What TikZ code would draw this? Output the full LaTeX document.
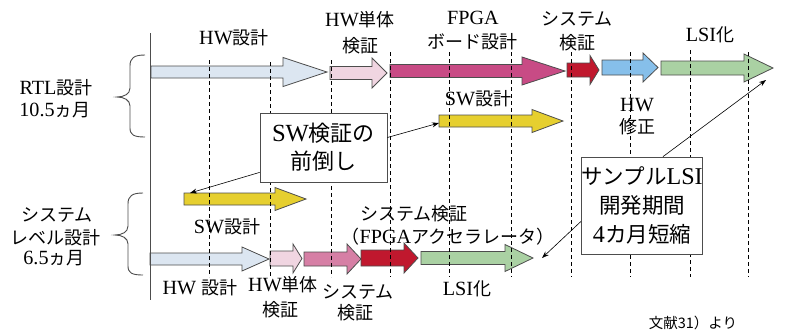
\documentclass[tikz,border=0pt]{standalone}
\usepackage{fontspec}
\setmainfont{Liberation Serif}[Scale=1.12]
\newfontfamily\jpf{Noto Sans CJK JP}
\usetikzlibrary{arrows.meta,calc}
\newcommand{\J}[1]{{\jpf #1}}
\definecolor{cLB}{HTML}{DCE6F1}
\definecolor{cLP}{HTML}{F0D5E1}
\definecolor{cMG}{HTML}{C84B85}
\definecolor{cRD}{HTML}{C0182E}
\definecolor{cBL}{HTML}{86BFEA}
\definecolor{cGR}{HTML}{AAD1A3}
\definecolor{cYL}{HTML}{E6CF2F}
\definecolor{cPK}{HTML}{D67FA5}
\definecolor{cOL}{HTML}{4D4D4D}
\tikzset{
  blk/.style={draw=cOL, line width=0.8pt, line join=miter},
  dsh/.style={draw=black, line width=0.8pt, dash pattern=on 4pt off 3pt},
  brc/.style={draw=cOL, line width=0.9pt},
  lbl/.style={inner sep=0pt, font=\fontsize{18}{21}\selectfont},
  bigbox/.style={draw=cOL, line width=0.8pt, fill=white, inner sep=0pt, align=center},
  conn/.style={-{Stealth[length=7pt,width=5pt]}, line width=0.6pt},
  foot/.style={inner sep=0pt, font=\jpf\fontsize{14.5}{16}\selectfont}
}
% name, fill, x1, xhead, xtip, ycenter, shaft half, head half
\newcommand{\barrow}[8]{%
  \draw[blk,fill=#2] (#3,{#6-#7}) -- (#4,{#6-#7}) -- (#4,{#6-#8}) -- (#5,#6) -- (#4,{#6+#8}) -- (#4,{#6+#7}) -- (#3,{#6+#7}) -- cycle;
  \coordinate (#1-tail) at (#3,#6);
  \coordinate (#1-tip) at (#5,#6);}
\begin{document}
\begin{tikzpicture}[x=1pt,y=-1pt]
\useasboundingbox (0,0) rectangle (791,333);
% top row
\barrow{hwt}{cLB}{151}{283}{327}{72}{6}{14.5}
\barrow{hut}{cLP}{330}{372}{387}{73}{6.5}{15}
\barrow{fpt}{cMG}{390}{522}{565}{71}{6.5}{14}
\barrow{svt}{cRD}{567}{590}{599}{70}{7}{14.5}
\barrow{hmt}{cBL}{602}{643}{658}{67.5}{7.5}{14.5}
\barrow{gt}{cGR}{661}{744}{773}{68}{7}{14}
\barrow{swt}{cYL}{439}{532}{563}{121}{6}{11.5}
% bottom rows
\barrow{swb}{cYL}{184}{275}{306}{199}{6}{11.5}
\barrow{hwb}{cLB}{150}{242}{269}{259}{6}{12}
\barrow{hub}{cLP}{270}{293}{302}{258.5}{7.5}{14.5}
\barrow{svb}{cPK}{304}{347}{361}{259}{7}{15}
\barrow{fab}{cRD}{361}{404}{418}{258}{8}{15}
\barrow{gb}{cGR}{421}{505}{533}{258}{6.5}{13.5}
% dashed guide lines
\foreach \x/\ys in {209/60,270/62,331/60,390/52,449/52,511/52,571/52,630/52,690/50,748/52}
  \draw[dsh] (\x,\ys) -- (\x,277);
% solid axis
\draw[cOL, line width=0.8pt] (150,33) -- (150,300);
% braces
\draw[brc] (145,55) .. controls (134,55) and (130,58) .. (130,66) -- (130,88)
  .. controls (130,94) and (124,97) .. (117,97) .. controls (124,97) and (130,100) .. (130,106)
  -- (130,128) .. controls (130,135) and (134,137) .. (145,137);
\draw[brc] (143,193) .. controls (132,193) and (128,196) .. (128,204) -- (128,226)
  .. controls (128,232) and (122,235) .. (115,235) .. controls (122,235) and (128,238) .. (128,244)
  -- (128,266) .. controls (128,273) and (132,275) .. (143,275);
% boxes
\node[bigbox, minimum width=127pt, minimum height=69pt, font=\fontsize{22}{28}\selectfont]
  (box1) at (323.5,147.5) {SW\J{検証の}\\\J{前倒し}};
\node[bigbox, minimum width=120pt, minimum height=97pt, font=\fontsize{21.5}{29}\selectfont]
  (box2) at (642,205.5) {\J{サンプル}LSI\\\J{開発期間}\\4\J{カ月短縮}};
% connectors
\draw[conn] ([yshift=10pt]box1.east) -- ([yshift=-2pt]swt-tail);
\draw[conn] ([yshift=10pt]box1.south west) -- ([shift={(6,-6)}]swb-tail);
\draw[conn] ([yshift=-16pt]box2.west) -- ([xshift=9pt]gb-tip);
\draw[conn] ([xshift=21pt]box2.north) -- ([shift={(-7,12)}]gt-tip);
% left labels
\node[lbl] (l1) at (56,88) {RTL\J{設計}};
\node[lbl] (l2) at (55,110) {10.5\J{ヵ月}};
\node[lbl] (l3) at (57,215) {\J{システム}};
\node[lbl] (l4) at (55,238) {\J{レベル設計}};
\node[lbl] (l5) at (54,258) {6.5\J{ヵ月}};
% top labels
\node[lbl] (t1) at (234,38) {HW\J{設計}};
\node[lbl] (t2) at (360,20) {HW\J{単体}};
\node[lbl] (t3) at (360,46) {\J{検証}};
\node[lbl] (t4) at (473,18) {FPGA};
\node[lbl] (t5) at (472,42) {\J{ボード設計}};
\node[lbl] (t6) at (577,19) {\J{システム}};
\node[lbl] (t7) at (577,43) {\J{検証}};
\node[lbl] (t8) at (710,35) {LSI\J{化}};
\node[lbl] (t9) at (478,99) {SW\J{設計}};
\node[lbl] (t10) at (637,105) {HW};
\node[lbl] (t11) at (637,127) {\J{修正}};
% bottom labels
\node[lbl] (b1) at (227,227) {SW\J{設計}};
\node[lbl] (b2) at (200,288) {HW \J{設計}};
\node[lbl] (b3) at (283,285) {HW\J{単体}};
\node[lbl] (b4) at (280,310) {\J{検証}};
\node[lbl] (b5) at (358,292) {\J{システム}};
\node[lbl] (b6) at (355,313) {\J{検証}};
\node[lbl] (b7) at (414,214) {\J{システム検証}};
\node[lbl] (b8) at (448,237) {\J{（}FPGA\J{アクセラレータ）}};
\node[lbl] (b9) at (467,289) {LSI\J{化}};
% footnote
\node[foot] (fn) at (693,323) {文献31）より};
\end{tikzpicture}
\end{document}
